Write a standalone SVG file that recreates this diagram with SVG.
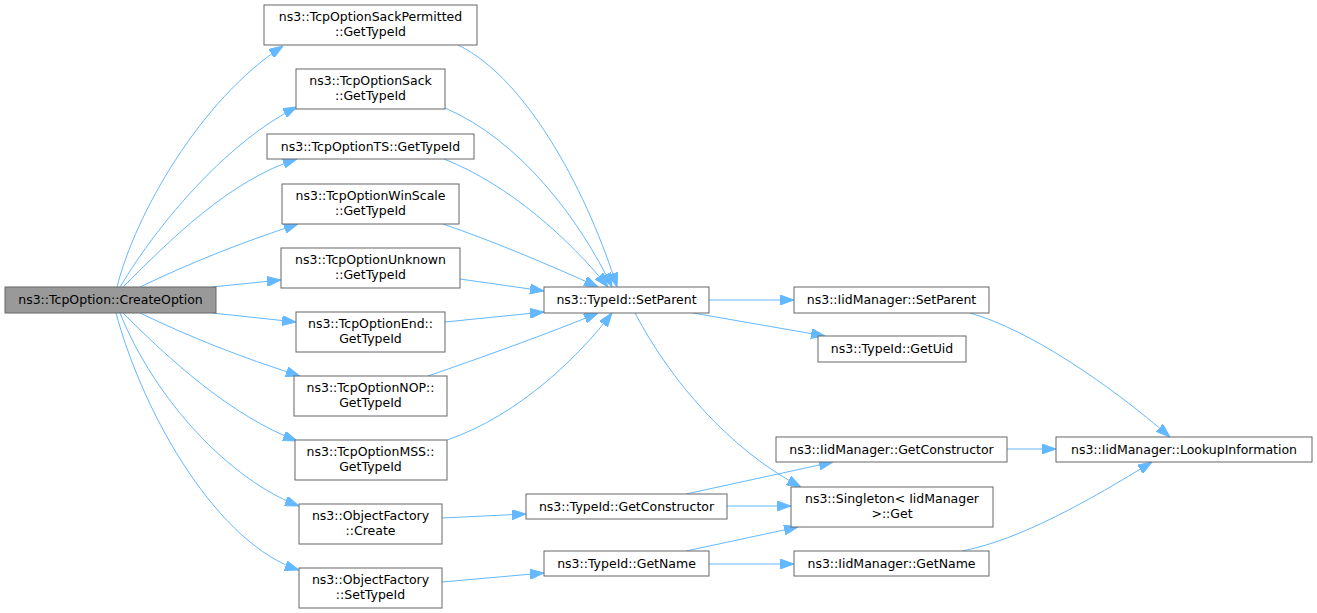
<svg xmlns="http://www.w3.org/2000/svg" width="1317" height="613" viewBox="0 0 1317 613">
<style>
.n rect{fill:#ffffff;stroke:#666666;stroke-width:1}
.n.root rect{fill:#999999}
.n text{font-family:"DejaVu Sans",sans-serif;font-size:12.5px;fill:#000000;text-anchor:middle}
.e path{fill:none;stroke:#63b8ff;stroke-width:1;marker-end:url(#ah)}
</style>
<defs>
<marker id="ah" markerUnits="userSpaceOnUse" viewBox="0 0 14 10" markerWidth="14" markerHeight="10" refX="14" refY="5" orient="auto">
<path d="M0,0 L14,5 L0,10 z" fill="#63b8ff" stroke="#63b8ff" stroke-width="1"/>
</marker>
</defs>
<rect width="1317" height="613" fill="#ffffff"/>
<g class="e" id="edges">
<path d="M117,287 C135,215 200,100 283,46"/>
<path d="M120,287 C160,220 230,140 297,107"/>
<path d="M123,287 C170,240 230,180 297,159"/>
<path d="M140,287 C190,263 240,243 298,224"/>
<path d="M212,287 L281,280"/>
<path d="M212,313 L296,322"/>
<path d="M140,313 C190,337 240,357 300,376"/>
<path d="M123,313 C170,360 230,415 297,441"/>
<path d="M120,313 C155,400 230,480 299,506"/>
<path d="M116,313 C145,420 220,545 299,570"/>
<path d="M458,45 C530,80 590,200 617,287"/>
<path d="M445,108 C520,140 580,220 612,287"/>
<path d="M444,159 C510,185 570,240 608,287"/>
<path d="M443,224 C490,240 550,265 598,287"/>
<path d="M460,279 L544,291"/>
<path d="M445,322 L544,312"/>
<path d="M428,376 C480,358 550,333 598,313"/>
<path d="M447,440 C520,415 580,355 612,313"/>
<path d="M709,300 L794,300"/>
<path d="M693,313 L825,336"/>
<path d="M635,313 C670,380 730,450 801,487"/>
<path d="M970,313 C1030,330 1110,385 1170,437"/>
<path d="M1007,449 L1056,449"/>
<path d="M962,551 C1020,540 1090,500 1152,462"/>
<path d="M686,494 L833,462"/>
<path d="M727,506 L791,506"/>
<path d="M686,551 L798,527"/>
<path d="M709,564 L794,564"/>
<path d="M442,518 L526,514"/>
<path d="M442,582 L544,573"/>
</g>
<g class="n root" id="CreateOption"><rect x="5" y="287" width="211" height="26"/><text x="110.5" y="304">ns3::TcpOption::CreateOption</text></g>
<g class="n" id="SackPermitted"><rect x="264" y="5" width="213" height="40"/><text x="370.5" y="21">ns3::TcpOptionSackPermitted</text><text x="370.5" y="36">::GetTypeId</text></g>
<g class="n" id="Sack"><rect x="296" y="69" width="149" height="40"/><text x="370.5" y="85">ns3::TcpOptionSack</text><text x="370.5" y="100">::GetTypeId</text></g>
<g class="n" id="TS"><rect x="267" y="134" width="207" height="25"/><text x="370.5" y="151">ns3::TcpOptionTS::GetTypeId</text></g>
<g class="n" id="WinScale"><rect x="282" y="184" width="177" height="40"/><text x="370.5" y="200">ns3::TcpOptionWinScale</text><text x="370.5" y="215">::GetTypeId</text></g>
<g class="n" id="Unknown"><rect x="281" y="248" width="179" height="40"/><text x="370.5" y="264">ns3::TcpOptionUnknown</text><text x="370.5" y="279">::GetTypeId</text></g>
<g class="n" id="End"><rect x="296" y="312" width="149" height="40"/><text x="370.5" y="328">ns3::TcpOptionEnd::</text><text x="370.5" y="343">GetTypeId</text></g>
<g class="n" id="NOP"><rect x="294" y="376" width="153" height="40"/><text x="370.5" y="392">ns3::TcpOptionNOP::</text><text x="370.5" y="407">GetTypeId</text></g>
<g class="n" id="MSS"><rect x="295" y="440" width="152" height="40"/><text x="370.5" y="456">ns3::TcpOptionMSS::</text><text x="370.5" y="471">GetTypeId</text></g>
<g class="n" id="OFCreate"><rect x="299" y="504" width="143" height="40"/><text x="370.5" y="520">ns3::ObjectFactory</text><text x="370.5" y="535">::Create</text></g>
<g class="n" id="OFSetTypeId"><rect x="299" y="568" width="143" height="40"/><text x="370.5" y="584">ns3::ObjectFactory</text><text x="370.5" y="599">::SetTypeId</text></g>
<g class="n" id="SetParent"><rect x="544" y="287" width="165" height="26"/><text x="626.5" y="304">ns3::TypeId::SetParent</text></g>
<g class="n" id="IidSetParent"><rect x="794" y="287" width="195" height="26"/><text x="891.5" y="304">ns3::IidManager::SetParent</text></g>
<g class="n" id="GetUid"><rect x="818" y="336" width="148" height="26"/><text x="892" y="353">ns3::TypeId::GetUid</text></g>
<g class="n" id="IidGetConstructor"><rect x="776" y="437" width="231" height="25"/><text x="891.5" y="454">ns3::IidManager::GetConstructor</text></g>
<g class="n" id="Lookup"><rect x="1056" y="437" width="256" height="25"/><text x="1184" y="454">ns3::IidManager::LookupInformation</text></g>
<g class="n" id="Singleton"><rect x="791" y="487" width="202" height="40"/><text x="892" y="503">ns3::Singleton&lt; IidManager</text><text x="892" y="518">&gt;::Get</text></g>
<g class="n" id="GetConstructor"><rect x="526" y="494" width="201" height="25"/><text x="626.5" y="511">ns3::TypeId::GetConstructor</text></g>
<g class="n" id="GetName"><rect x="544" y="551" width="165" height="25"/><text x="626.5" y="568">ns3::TypeId::GetName</text></g>
<g class="n" id="IidGetName"><rect x="794" y="551" width="195" height="25"/><text x="891.5" y="568">ns3::IidManager::GetName</text></g>
</svg>
